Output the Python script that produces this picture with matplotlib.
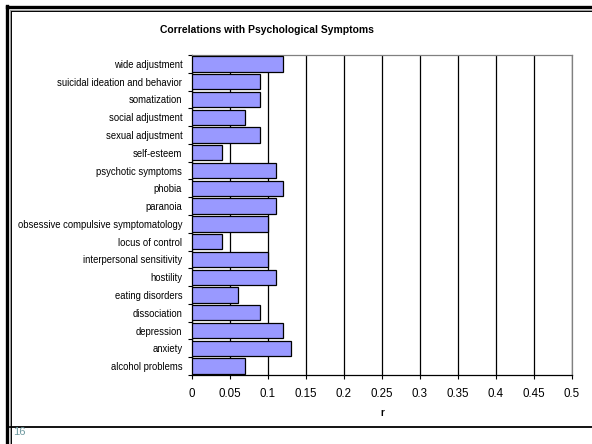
import numpy as np
import matplotlib
matplotlib.use("Agg")
import matplotlib.pyplot as plt
from matplotlib.lines import Line2D

# Symptom categories (top to bottom as drawn) and their correlations
symptoms = [
    "wide adjustment", "suicidal ideation and behavior", "somatization",
    "social adjustment", "sexual adjustment", "self-esteem",
    "psychotic symptoms", "phobia", "paranoia",
    "obsessive compulsive symptomatology", "locus of control",
    "interpersonal sensitivity", "hostility", "eating disorders",
    "dissociation", "depression", "anxiety", "alcohol problems",
]
r_values = [0.12, 0.09, 0.09, 0.07, 0.09, 0.04, 0.11, 0.12, 0.11,
            0.10, 0.04, 0.10, 0.11, 0.06, 0.09, 0.12, 0.13, 0.07]
x_ticks = [0, 0.05, 0.1, 0.15, 0.2, 0.25, 0.3, 0.35, 0.4, 0.45, 0.5]
x_tick_labels = ["0", "0.05", "0.1", "0.15", "0.2", "0.25", "0.3", "0.35", "0.4", "0.45", "0.5"]

plt.rcParams["font.family"] = ["Liberation Sans", "DejaVu Sans"]

W, H = 592, 444
fig = plt.figure(figsize=(W / 100, H / 100), dpi=100)
ax = fig.add_axes([192 / W, 1 - 375 / H, 380 / W, 320 / H])

n = len(symptoms)
ypos = np.arange(n)[::-1]
ax.barh(ypos, r_values, height=0.86, color="#9999ff", edgecolor="black",
        linewidth=0.9, zorder=3)

ax.set_xlim(0, 0.5)
ax.set_ylim(-0.5, n - 0.5)
ax.set_xticks(x_ticks)
ax.set_xticklabels(x_tick_labels, fontsize=8.3)
ax.set_yticks(ypos)
ax.set_yticklabels(symptoms, fontsize=6.85)
ax.tick_params(axis="y", length=0, pad=7)
ax.tick_params(axis="x", length=3, width=0.8, direction="out", pad=6)
# category boundary ticks on the y axis
ax.set_yticks(np.arange(n + 1) - 0.5, minor=True)
ax.tick_params(axis="y", which="minor", length=3, width=0.8, direction="out")

ax.grid(axis="x", color="black", linewidth=0.9, zorder=0)
ax.set_axisbelow(True)
for side in ("top", "right"):
    ax.spines[side].set_color("#808080")
    ax.spines[side].set_linewidth(0.9)
for side in ("left", "bottom"):
    ax.spines[side].set_color("black")
    ax.spines[side].set_linewidth(0.9)

ax.set_xlabel("r", fontsize=7, fontweight="bold", labelpad=6)
fig.text(267 / W, 1 - 30 / H, "Correlations with Psychological Symptoms",
         ha="center", va="center", fontsize=7.5, fontweight="bold")

# slide frame
def fline(xs, ys, **kw):
    fig.add_artist(Line2D([x / W for x in xs], [1 - y / H for y in ys],
                          transform=fig.transFigure, **kw))

fline([6.5, W], [7.5, 7.5], color="black", linewidth=2.4)
fline([6.5, 6.5], [6, H], color="black", linewidth=2.4)
fline([10, W], [10.5, 10.5], color="#999999", linewidth=0.7)
fline([9.5, 9.5], [10, H], color="#999999", linewidth=0.7)
fline([11, W], [11.5, 11.5], color="black", linewidth=0.7)
fline([11, 11], [11, H], color="black", linewidth=0.7)
fline([10, W], [427, 427], color="black", linewidth=1.3)

fig.text(13 / W, 1 - 432 / H, "16", ha="left", va="center",
         fontsize=8, color="#6f9aa0")

fig.savefig("out.png", dpi=100)
